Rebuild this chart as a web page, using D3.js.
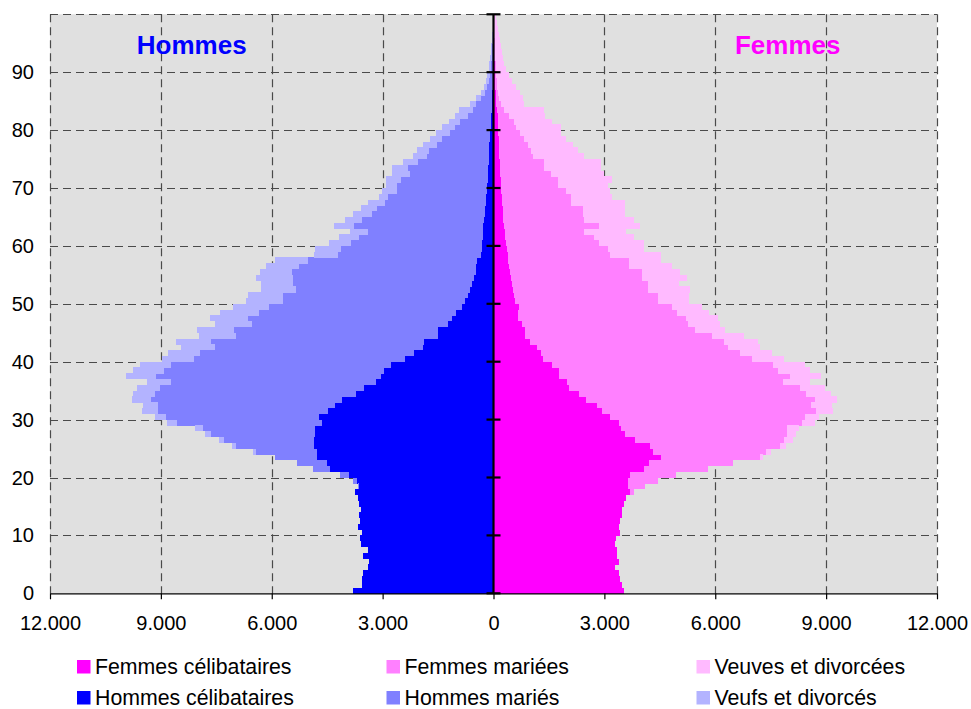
<!DOCTYPE html>
<html><head><meta charset="utf-8">
<script src="https://cdn.jsdelivr.net/npm/d3@7"></script>
<style>body{margin:0;background:#fff}svg{display:block}text{font-family:"Liberation Sans",Arial,sans-serif}</style>
</head><body><svg id="c" width="971" height="709"></svg>
<script>
// ---- DATA (ages 0..99) ----
const ages = d3.range(0, 100);
const hommesCelibataires = [3800,3555,3555,3530,3390,3365,3530,3390,3580,3610,3555,3665,3610,3637,3580,3637,3665,3745,3637,3690,
3910,4422,4503,4774,4774,4855,4855,4828,4828,4650,4720,4476,4287,4097,3718,3501,3176,3041,2960,2770,
2391,2147,1904,1877,1498,1498,1227,1118,1010,848,766,685,631,577,523,468,468,440,330,315,
300,285,271,271,260,240,225,215,198,180,170,160,150,140,135,130,120,110,100,90,
80,70,60,50,40,35,30,25,20,15,12,10,8,6,5,4,3,2,2,1];
const hommesMaries = [0,0,0,0,0,0,0,0,0,0,0,0,0,0,0,0,0,0,30,110,
240,460,810,1140,1650,2110,2440,2820,3030,3915,4140,4600,4790,5170,5440,5525,5550,6090,5960,5960,
5715,5800,5630,5770,5470,5525,5305,5525,5335,5235,4935,5010,4712,4847,4901,4983,4794,4578,3875,3809,
3553,3352,3129,3501,3296,3045,2924,2718,2654,2428,2438,2339,2106,2170,1904,1665,1630,1415,1290,1085,
955,830,625,500,430,300,195,145,115,75,58,45,37,29,23,16,12,9,6,4];
const veufsDivorces = [0,0,0,0,0,0,0,0,0,0,0,0,0,0,0,0,0,0,0,0,
0,0,0,0,70,110,135,160,220,270,300,430,410,510,600,620,650,810,840,840,
870,865,920,950,1000,1000,1000,1030,1055,965,995,955,948,867,1002,867,893,893,650,704,
596,541,481,542,460,514,434,460,243,406,298,407,487,433,406,380,315,380,325,380,
350,300,350,380,165,135,110,80,65,80,65,55,45,35,27,20,15,11,7,5];
const femmesCelibataires = [3539,3485,3431,3404,3296,3404,3350,3350,3296,3323,3431,3404,3431,3485,3485,3539,3594,3702,3648,3648,
3702,4081,4216,4541,4325,4243,3837,3566,3458,3404,3160,2944,2808,2510,2321,2050,1996,1779,1779,1590,
1346,1292,1183,994,858,858,777,669,669,696,588,560,530,500,480,450,425,400,380,360,
340,320,300,290,270,260,245,235,220,210,200,190,180,175,165,155,150,145,140,130,
125,120,110,100,80,70,60,50,45,40,35,30,25,22,18,15,12,10,8,6];
const femmesMariees = [0,0,0,0,0,0,0,0,0,0,0,0,0,0,0,0,0,110,460,810,
1245,1735,2275,2680,3060,3520,4010,4385,4495,4955,5255,5770,5770,6200,6145,6255,5850,6255,5930,5985,
5660,5390,5175,5255,5065,4605,4495,4550,4305,4145,3870,3900,3659,3689,3547,3577,3250,3275,2780,2746,
2522,2407,2156,2572,2186,2169,2184,1869,1884,1759,1552,1562,1383,1198,1208,920,871,795,691,593,
490,441,315,190,129,84,67,50,55,33,38,30,25,18,17,15,13,10,7,4];
const veuvesDivorcees = [0,0,0,0,0,0,0,0,0,0,0,0,0,0,0,0,0,0,0,0,
0,0,0,80,110,160,245,245,300,350,405,460,570,595,675,675,730,840,865,865,
865,840,865,895,865,810,865,865,865,810,840,840,1138,840,1218,1029,1164,866,1381,975,
1219,1083,1138,1111,1354,1137,1137,1462,1110,1191,1354,1462,1435,1544,1544,1381,1273,1218,1138,1110,
1218,1029,975,1083,622,650,596,515,406,352,271,230,213,196,174,151,129,107,85,63];
const xTickValues = [-12000,-9000,-6000,-3000,0,3000,6000,9000,12000];
const yTickValues = [0,10,20,30,40,50,60,70,80,90];
const yGridValues = [10,20,30,40,50,60,70,80,90,100];
const legendLabels = [["Femmes célibataires","Femmes mariées","Veuves et divorcées"],
                      ["Hommes célibataires","Hommes mariés","Veufs et divorcés"]];

// ---- STYLE ----
const colMen = ["#0000FF","#8080FF","#B3B3FF"];
const colWomen = ["#FF00FF","#FF80FF","#FFBAFF"];
const svg = d3.select("#c");
const x = d3.scaleLinear().domain([-12000, 12000]).range([50, 937]);
const y = d3.scaleLinear().domain([0, 100]).range([593.3, 14.3]);
const fmtLocale = d3.formatLocale({decimal:",", thousands:".", grouping:[3], currency:["",""]});
const fmt = fmtLocale.format(",");

// background
svg.append("rect").attr("x", x(-12000)).attr("y", y(100))
  .attr("width", x(12000)-x(-12000)).attr("height", y(0)-y(100)).attr("fill", "#E0E0E0");

// gridlines
const grid = svg.append("g").attr("stroke", "#4a4a4a").attr("stroke-width", 1.2).attr("stroke-dasharray", "8,5").attr("fill","none");
grid.selectAll("line.v").data(xTickValues.filter(d => d !== 0)).join("line")
  .attr("x1", d => Math.round(x(d))+0.5).attr("x2", d => Math.round(x(d))+0.5)
  .attr("y1", y(100)).attr("y2", y(0));
grid.selectAll("line.h").data(yGridValues).join("line")
  .attr("x1", x(-12000)).attr("x2", x(12000))
  .attr("y1", d => Math.round(y(d))+0.5).attr("y2", d => Math.round(y(d))+0.5);

// stacked bars
const rows = ages.map((a, i) => ({age: a,
  hc: hommesCelibataires[i], hm: hommesMaries[i], hv: veufsDivorces[i],
  fc: femmesCelibataires[i], fm: femmesMariees[i], fv: veuvesDivorcees[i]}));
const stackMen = d3.stack().keys(["hc","hm","hv"])(rows);
const stackWomen = d3.stack().keys(["fc","fm","fv"])(rows);

const barsG = svg.append("g").attr("shape-rendering", "crispEdges");
stackMen.forEach((layer, k) => {
  barsG.append("g").attr("fill", colMen[k]).selectAll("rect").data(layer).join("rect")
    .attr("x", d => x(-d[1])).attr("width", d => x(-d[0]) - x(-d[1]))
    .attr("y", d => y(d.data.age + 1)).attr("height", d => y(d.data.age) - y(d.data.age + 1) + 0.3);
});
stackWomen.forEach((layer, k) => {
  barsG.append("g").attr("fill", colWomen[k]).selectAll("rect").data(layer).join("rect")
    .attr("x", d => x(d[0])).attr("width", d => x(d[1]) - x(d[0]))
    .attr("y", d => y(d.data.age + 1)).attr("height", d => y(d.data.age) - y(d.data.age + 1) + 0.3);
});

// bottom axis
const xAxis = d3.axisBottom(x).tickValues(xTickValues).tickSize(6).tickSizeOuter(0).tickPadding(17)
  .tickFormat(d => fmt(Math.abs(d)));
const gx = svg.append("g").attr("transform", `translate(0,${y(0)})`).call(xAxis);
gx.select(".domain").attr("stroke", "#000").attr("stroke-width", 1.2);
gx.selectAll(".tick line").attr("stroke", "#000").attr("stroke-width", 1.2);
gx.selectAll("text").attr("font-size", 20).attr("fill", "#000").attr("font-family", '"Liberation Sans",Arial,sans-serif');

// central vertical axis with cross ticks
svg.append("line").attr("x1", x(0)).attr("x2", x(0)).attr("y1", y(0)).attr("y2", y(100))
  .attr("stroke", "#000").attr("stroke-width", 2.2);
svg.append("g").selectAll("line").data(yTickValues.concat([100])).join("line")
  .attr("x1", x(0) - 7).attr("x2", x(0) + 7).attr("y1", d => y(d)).attr("y2", d => y(d))
  .attr("stroke", "#000").attr("stroke-width", 2.2);

// y labels
svg.append("g").selectAll("text").data(yTickValues).join("text")
  .attr("x", 34).attr("y", d => y(d)).attr("dy", "0.35em").attr("text-anchor", "end")
  .attr("font-size", 20).attr("fill", "#000").text(d => d);

// titles
svg.append("text").attr("x", 191.7).attr("y", 54.3).attr("text-anchor", "middle")
  .attr("font-size", 26).attr("font-weight", "bold").attr("fill", "#0000FF").text("Hommes");
svg.append("text").attr("x", 787.7).attr("y", 54.3).attr("text-anchor", "middle")
  .attr("font-size", 26).attr("font-weight", "bold").attr("fill", "#FF00FF").text("Femmes");

// legend
const legX = [77, 386.5, 696.5];
const legY = [660, 691];
const legCols = [colWomen, colMen];
legendLabels.forEach((row, r) => {
  row.forEach((lab, c) => {
    const g = svg.append("g");
    g.append("rect").attr("x", legX[c]).attr("y", legY[r]).attr("width", 13.5).attr("height", 13.5)
      .attr("fill", legCols[r][c]);
    g.append("text").attr("x", legX[c] + 18).attr("y", legY[r] + 13.5).attr("font-size", 21.3)
      .attr("fill", "#000").text(lab);
  });
});
</script></body></html>
